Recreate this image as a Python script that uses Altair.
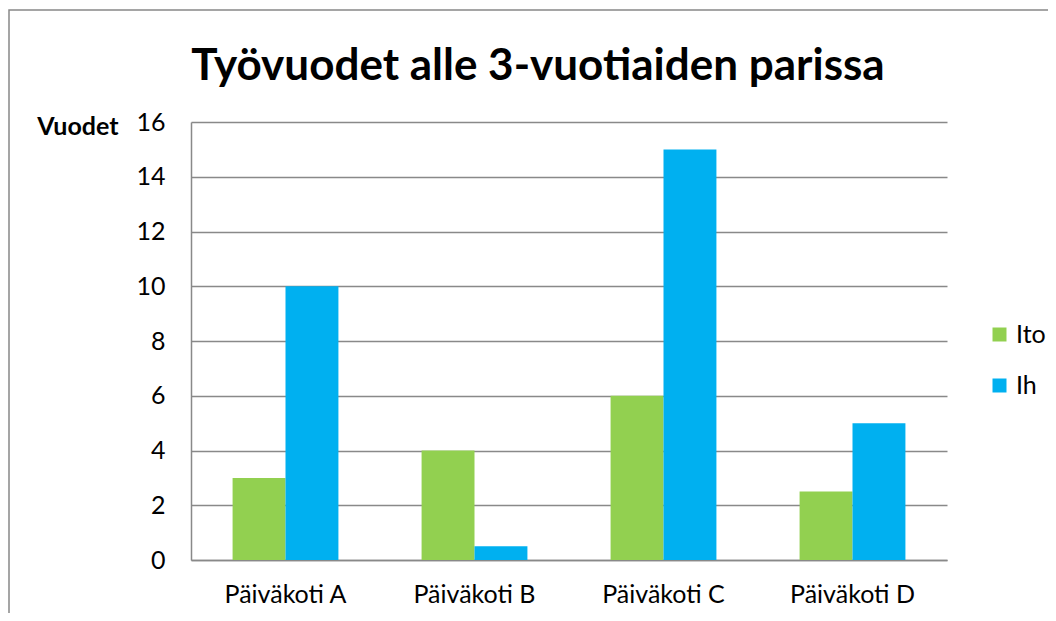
import altair as alt
import pandas as pd

categories = ["Päiväkoti A", "Päiväkoti B", "Päiväkoti C", "Päiväkoti D"]
series_names = ["Ito", "Ih"]
ito_values = [3, 4, 6, 2.5]
ih_values = [10, 0.5, 15, 5]
y_ticks = [0, 2, 4, 6, 8, 10, 12, 14, 16]
colors = ["#92D050", "#00B0F0"]

rows = []
for c, a, b in zip(categories, ito_values, ih_values):
    rows.append({"Päiväkoti": c, "Sarja": series_names[0], "Vuodet": a})
    rows.append({"Päiväkoti": c, "Sarja": series_names[1], "Vuodet": b})
df = pd.DataFrame(rows)

FONT = "Lato"
GRID = "#898989"

bars = alt.Chart(df).mark_bar().encode(
    x=alt.X("Päiväkoti:N", sort=categories,
            scale=alt.Scale(paddingInner=0.44, paddingOuter=0.22),
            axis=alt.Axis(title=None, labelAngle=0, ticks=False, domainColor=GRID,
                          domainWidth=1.5, labelPadding=22, labelFontSize=25,
                          labelFont=FONT, labelColor="#000000")),
    xOffset=alt.XOffset("Sarja:N", sort=series_names,
                        scale=alt.Scale(paddingInner=0, paddingOuter=0)),
    y=alt.Y("Vuodet:Q", scale=alt.Scale(domain=[0, 16], nice=False),
            axis=alt.Axis(values=y_ticks, title="Vuodet", titleAngle=0,
                          titleAlign="right", titleBaseline="alphabetic",
                          titleX=-73, titleY=12, titleFont=FONT, titleFontSize=25,
                          titleFontWeight="bold", titleColor="#000000",
                          ticks=False, domainColor=GRID, domainWidth=1.5,
                          gridColor=GRID, gridWidth=1.5, labelPadding=26,
                          labelFontSize=25, labelFont=FONT, labelColor="#000000")),
    color=alt.Color("Sarja:N", sort=series_names,
                    scale=alt.Scale(domain=series_names, range=colors),
                    legend=alt.Legend(title=None, orient="none", legendX=796, legendY=200,
                                      symbolType="square", symbolSize=196,
                                      symbolStrokeWidth=0, labelFont=FONT,
                                      labelFontSize=25, labelColor="#000000",
                                      rowPadding=25, labelOffset=4)),
)

border = alt.Chart(pd.DataFrame({"k": [0]})).mark_rect(
    fill=None, stroke="#888888", strokeWidth=1.5
).encode(
    x=alt.value(-182), y=alt.value(-112), x2=alt.value(2000), y2=alt.value(2000)
)

chart = alt.layer(bars, border).properties(
    width=756, height=438,
    title=alt.TitleParams("Työvuodet alle 3-vuotiaiden parissa", font=FONT,
                          fontSize=44, fontWeight="bold", color="#000000",
                          anchor="middle", frame="group", dx=-31, offset=-80),
    autosize=alt.AutoSizeParams(type="none"),
    padding={"left": 183, "top": 114, "right": 101, "bottom": 53},
).configure_view(stroke=None)

chart.save("out.html", embed_options={"renderer": "svg", "actions": False})
